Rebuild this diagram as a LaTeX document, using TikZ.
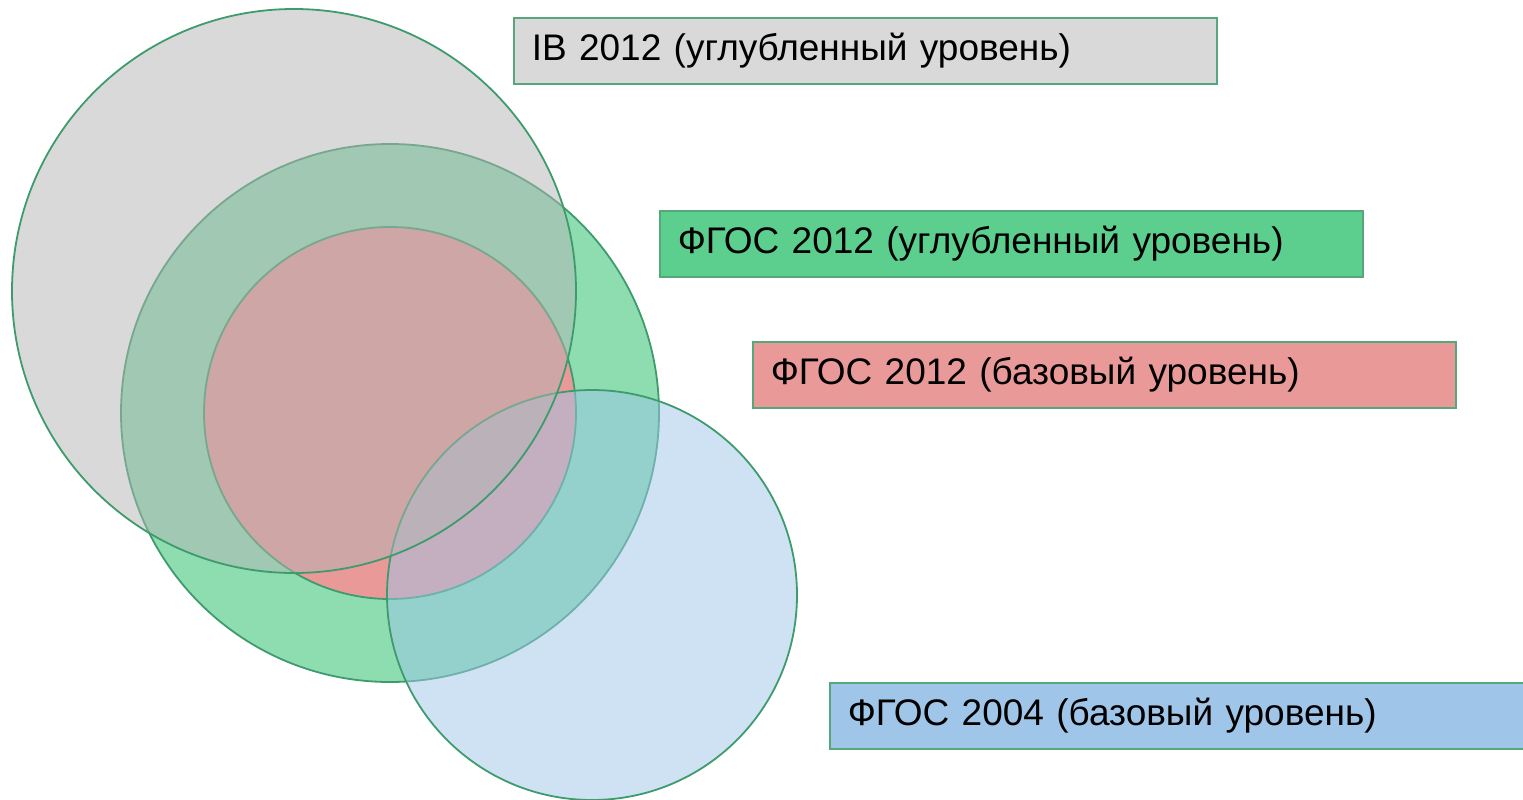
\documentclass[tikz,border=0pt]{standalone}
\usepackage{fontspec}
\setmainfont{Liberation Sans}
\definecolor{edge}{HTML}{3E9B6C}
\definecolor{boxedge}{HTML}{56A87C}
\definecolor{cgray}{HTML}{B3B3B3}
\definecolor{bgray}{HTML}{D9D9D9}
\definecolor{cgreen}{HTML}{5CCF8F}
\definecolor{cred}{HTML}{EA9999}
\definecolor{cblue}{HTML}{9FC5E8}
\begin{document}
\begin{tikzpicture}[x=1pt,y=-1pt,
  ring/.style={draw=edge,line width=1.8pt,circle,inner sep=0pt},
  label/.style={draw=boxedge,line width=1.6pt,rectangle,anchor=north west,
    minimum width=703pt,minimum height=66pt,inner sep=0pt,
    text width=667pt,align=left,font=\fontsize{37}{44}\selectfont},
]
\useasboundingbox (0,0) rectangle (1523,800);
% circles, bottom to top
\node[ring,minimum size=538pt,fill=cgreen,fill opacity=0.7,draw opacity=1] (cgr) at (390,413) {};
\node[ring,minimum size=372pt,fill=cred] (cr) at (390,413) {};
\node[ring,minimum size=410pt,fill=cblue,fill opacity=0.5,draw opacity=1] (cb) at (592,595) {};
\node[ring,minimum size=564pt,fill=cgray,fill opacity=0.5,draw opacity=1] (cg) at (294,291) {};
% labels
\node[label,fill=bgray] (lib) at (513,17) {IB 2012 (углубленный уровень)};
\node[label,fill=cgreen] (lgr) at (659,210) {ФГОС 2012 (углубленный уровень)};
\node[label,fill=cred] (lr) at (752,341) {ФГОС 2012 (базовый уровень)};
\node[label,fill=cblue] (lb) at (829,682) {ФГОС 2004 (базовый уровень)};
\end{tikzpicture}
\end{document}
